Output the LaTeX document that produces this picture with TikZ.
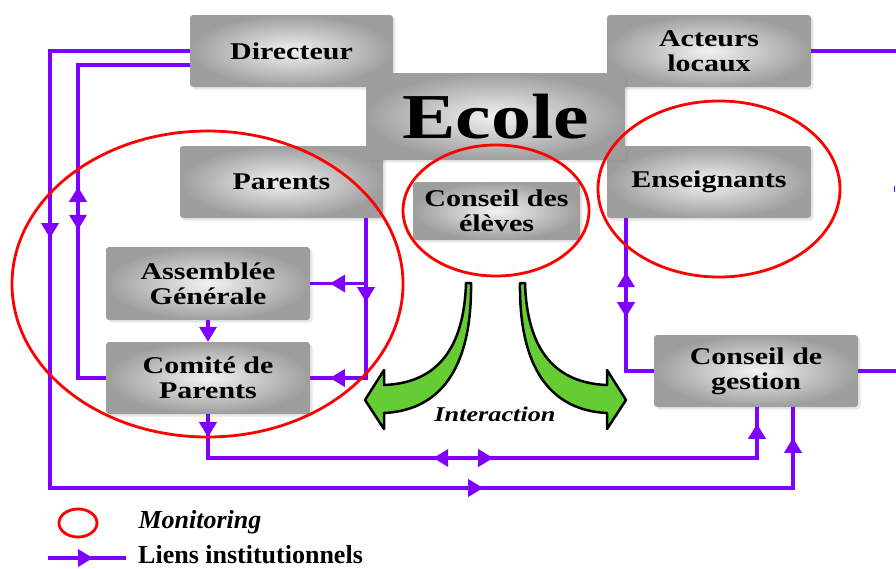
\documentclass[tikz,border=0pt]{standalone}
\usepackage{fontspec}
\setmainfont{Liberation Serif}
\newfontfamily\wide{Liberation Serif}[FakeStretch=1.25]
\usetikzlibrary{arrows.meta,decorations.markings,shadows}
\definecolor{purp}{RGB}{128,0,255}
\definecolor{grn}{RGB}{102,204,51}
\definecolor{boxout}{RGB}{158,158,158}
\definecolor{boxin}{RGB}{242,242,242}
\begin{document}
\begin{tikzpicture}[x=1pt,y=-1pt,
  >={Triangle[length=15pt,width=17pt]},
  box/.style={rounded corners=3pt, shading=radial, inner color=boxin, outer color=boxout,
    drop shadow={shadow xshift=2.5pt, shadow yshift=-2.5pt, opacity=0.18},
    align=center, inner sep=0pt, font=\wide\bfseries\fontsize{24}{25}\selectfont},
  link/.style={draw=purp, line width=3.5pt},
  arr/.style={postaction={decorate,decoration={markings,#1}}},
  monit/.style={draw=red, line width=2.8pt},
  garrow/.style={fill=grn, draw=black, line width=2.5pt, line join=round}]
\useasboundingbox (0,0) rectangle (896,568);

% boxes
\node[box, minimum width=203pt, minimum height=72pt] (dir) at (291.5,51) {Directeur};
\node[box, minimum width=204pt, minimum height=72pt] (act) at (709,51) {Acteurs\\locaux};
\node[box, minimum width=203pt, minimum height=72pt] (par) at (281.5,182) {Parents};
\node[box, minimum width=204pt, minimum height=72pt] (ens) at (709,182) {Enseignants};
\node[box, minimum width=259pt, minimum height=87pt, font=\wide\bfseries\fontsize{64}{66}\selectfont] (ecole) at (495.5,116.5) {Ecole};
\node[box, minimum width=167pt, minimum height=58pt] (cde) at (496.5,211) {Conseil des\\élèves};
\node[box, minimum width=204pt, minimum height=73pt] (ag) at (208,283.5) {Assemblée\\Générale};
\node[box, minimum width=204pt, minimum height=72pt] (cp) at (208,378) {Comité de\\Parents};
\node[box, minimum width=204pt, minimum height=72pt] (cg) at (756,371) {Conseil de\\gestion};

% bend points
\coordinate (a1) at (50,51);
\coordinate (a2) at (50,488);
\coordinate (a3) at (793,488);
\coordinate (b1) at (78,378);
\coordinate (b2) at (78,65);
\coordinate (c1) at (366,378);
\coordinate (c2) at (366,283.5);
\coordinate (e1) at (208,458);
\coordinate (e2) at (757,458);
\coordinate (f1) at (626,371);
\coordinate (g1) at (896,51);
\coordinate (h1) at (896,371);

% purple links
\draw[link, arr={mark=at position 327pt with {\arrow{>}},
                 mark=at position 1010pt with {\arrow{>}},
                 mark=at position 1370pt with {\arrow{>}}}]
  (dir.west) -- (a1) -- (a2) -- (a3) -- (a3 |- cg.south);
\draw[link, arr={mark=at position 219pt with {\arrow{>}},
                 mark=at position 176pt with {\arrowreversed{>}}}]
  (cp.west) -- (b1) -- (b2) -- (b2 -| dir.west);
\draw[link, arr={mark=at position 84pt with {\arrow{>}},
                 mark=at position 196pt with {\arrow{>}}}]
  (c1 |- par.south) -- (c1) -- (cp.east);
\draw[link, arr={mark=at position 36pt with {\arrow{>}}}] (c2) -- (ag.east);
\draw[link, -{>}] (ag.south) -- (cp.north);
\draw[link, arr={mark=at position 23pt with {\arrow{>}},
                 mark=at position 269pt with {\arrowreversed{>}},
                 mark=at position 329pt with {\arrow{>}},
                 mark=at position 627pt with {\arrow{>}}}]
  (cp.south) -- (e1) -- (e2) -- (e2 |- cg.south);
\draw[link, arr={mark=at position 54pt with {\arrowreversed{>}},
                 mark=at position 99pt with {\arrow{>}}}]
  (f1 |- ens.south) -- (f1) -- (cg.west);
\draw[link] (act.east) -- (g1);
\draw[link] (cg.east) -- (h1);
\draw[purp, line width=1.2pt] (894.5,186) -- (894.5,192);

% green interaction arrows
\filldraw[garrow] (525,283) .. controls (527,350) and (555,383) .. (607,385)
  -- (607,370) -- (626,400) -- (607,429) -- (607,413)
  .. controls (545,410) and (519,360) .. (520,283) -- cycle;
\filldraw[garrow] (466,283) .. controls (464,350) and (436,383) .. (384,385)
  -- (384,370) -- (365,400) -- (384,429) -- (384,413)
  .. controls (446,410) and (472,360) .. (471,283) -- cycle;
\node[font=\wide\bfseries\itshape\fontsize{21}{23}\selectfont] (int) at (495,414) {Interaction};

% monitoring ellipses
\draw[monit] (207.5,284) ellipse [x radius=195.5, y radius=153];
\draw[monit] (496,210.5) ellipse [x radius=93, y radius=65.5];
\draw[monit] (719,189) ellipse [x radius=121, y radius=88];

% legend
\draw[monit] (78,523) ellipse [x radius=19, y radius=14];
\node[anchor=west, font=\bfseries\itshape\fontsize{26}{28}\selectfont] (lm) at (135,522) {Monitoring};
\coordinate (l1) at (48,558);
\coordinate (l2) at (126,558);
\draw[link, arr={mark=at position 45pt with {\arrow{>}}}] (l1) -- (l2);
\node[anchor=base west, inner sep=0pt, font=\bfseries\fontsize{26}{28}\selectfont] (ll) at (138,563) {Liens institutionnels};
\end{tikzpicture}
\end{document}
